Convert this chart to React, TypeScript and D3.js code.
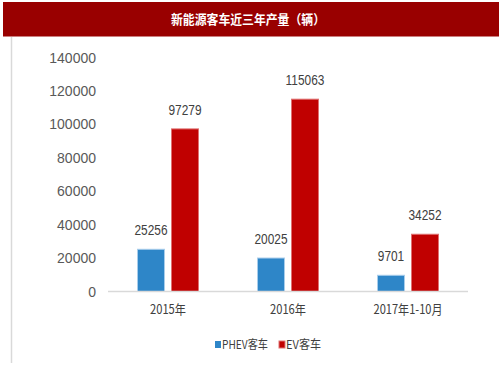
import React from "react";
import * as d3 from "d3";

const categories = ["2015年", "2016年", "2017年1-10月"];
const seriesNames = ["PHEV客车", "EV客车"];
const phevValues = [25256, 20025, 9701];
const evValues = [97279, 115063, 34252];
const yTicks = [0, 20000, 40000, 60000, 80000, 100000, 120000, 140000];
const title = "新能源客车近三年产量（辆）";

const colors = ["#2E86C8", "#C00000"];
const strokes = ["#A8CDEB", "#E07070"];

export default function App() {
  const W = 503, H = 378;
  const x = d3.scaleBand<string>().domain(categories).range([108, 468]);
  const y = d3.scaleLinear().domain([0, 140000]).range([291.5, 57.5]);
  const series = [phevValues, evValues];
  const barW = 27;
  const offsets = [-30.5, 3.5];
  const font = "'Liberation Sans', Arial, sans-serif";
  const cjk = "'Noto Sans CJK SC', sans-serif";
  const catLen = [36, 36, 69];
  const legLen = [46, 35];
  return (
    <svg width={W} height={H} style={{ position: "absolute", left: 0, top: 0, background: "#fff" }}>
      <rect x={3} y={2} width={496} height={34.5} fill="#990000" />
      <text x={248} y={24} textAnchor="middle" fill="#fff" fontSize={13} fontWeight="bold"
        fontFamily={cjk} textLength={154} lengthAdjust="spacingAndGlyphs">{title}</text>
      <line x1={11.5} x2={11.5} y1={37} y2={363} stroke="#d9d9d9" strokeWidth={1.5} />
      {yTicks.map((t) => (
        <text key={t} x={96} y={y(t) + 5} textAnchor="end" fontSize={14} fill="#595959"
          fontFamily={font}>{t}</text>
      ))}
      {categories.map((c, i) => {
        const cx = x(c)! + x.bandwidth() / 2;
        return (
          <g key={c}>
            {series.map((vals, s) => {
              const bx = cx + offsets[s];
              const lx = bx + barW / 2;
              const ly = y(vals[i]) - 14;
              return (
                <g key={s}>
                  <rect x={bx} y={y(vals[i])} width={barW} height={y(0) - y(vals[i])}
                    fill={colors[s]} stroke={strokes[s]} strokeWidth={1} />
                  <text transform={`translate(${lx},${ly}) scale(0.82,1)`} textAnchor="middle" fontSize={14.5}
                    fill="#404040" fontFamily={font}>{vals[i]}</text>
                </g>
              );
            })}
            <text x={cx} y={314} textAnchor="middle" fontSize={13} fill="#404040"
              fontFamily={cjk} textLength={catLen[i]} lengthAdjust="spacingAndGlyphs">{c}</text>
          </g>
        );
      })}
      <line x1={108} x2={468} y1={y(0)} y2={y(0)} stroke="#d9d9d9" strokeWidth={1.5} />
      {seriesNames.map((n, s) => {
        const lx = s === 0 ? 215 : 279;
        return (
          <g key={n}>
            <rect x={lx} y={341} width={6} height={7} fill={colors[s]} stroke={s === 1 ? "#E07070" : "none"} />
            <text x={lx + 7} y={349} fontSize={12} fill="#404040"
              fontFamily={cjk} textLength={legLen[s]} lengthAdjust="spacingAndGlyphs">{n}</text>
          </g>
        );
      })}
    </svg>
  );
}
